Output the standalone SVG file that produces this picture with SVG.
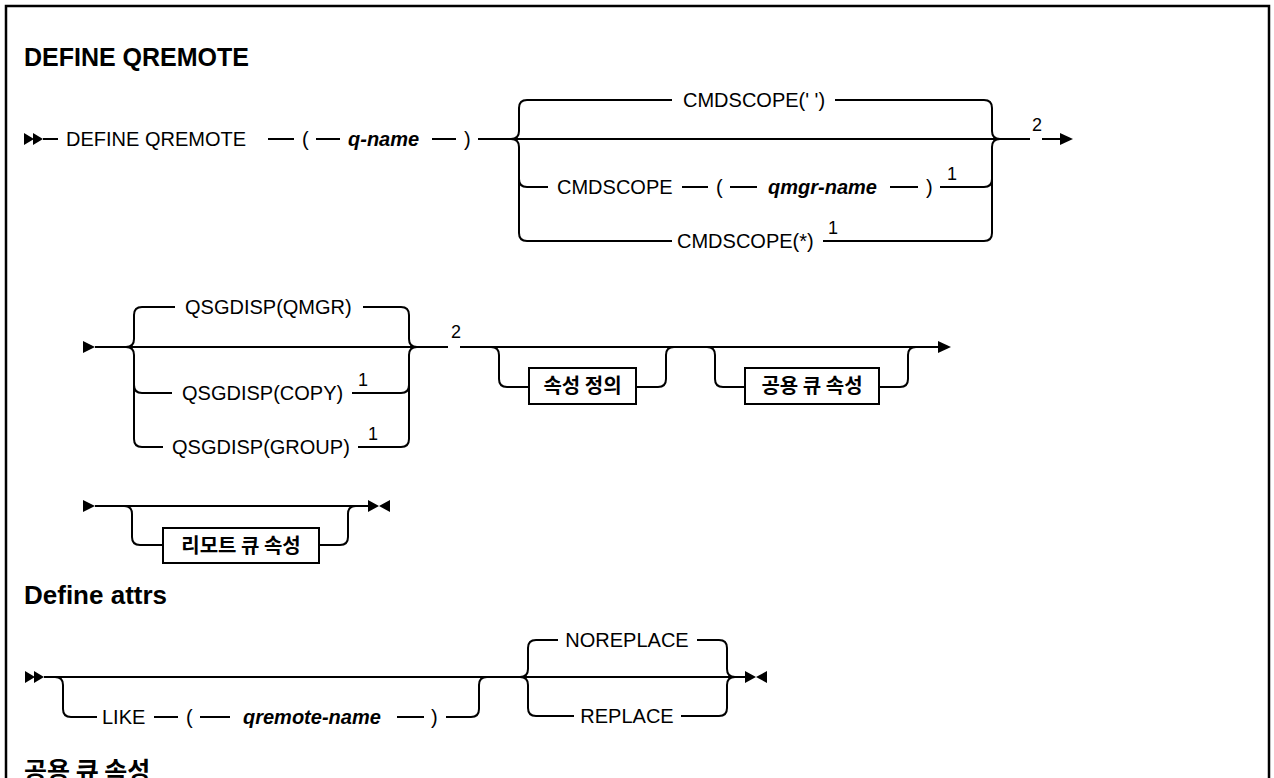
<svg xmlns="http://www.w3.org/2000/svg" width="1274" height="778" viewBox="0 0 1274 778">
<style>
.rail{fill:none;stroke:#000;stroke-width:2}
.mk{fill:#000;stroke:none}
.box{fill:#fff;stroke:#000;stroke-width:2}
.t{font-family:"Liberation Sans","Noto Sans CJK KR",sans-serif;font-size:20px;fill:#000}
.v{font-style:italic;font-weight:bold}
.k{font-family:"Noto Sans CJK KR","Liberation Sans",sans-serif;font-size:20px;font-weight:bold;fill:#000}
.s{font-family:"Liberation Sans",sans-serif;font-size:18px;fill:#000}
.h{font-family:"Liberation Sans","Noto Sans CJK KR",sans-serif;font-size:25px;font-weight:bold;fill:#000}
.hk{font-family:"Noto Sans CJK KR",sans-serif;font-size:25px;font-weight:bold;fill:#000}
</style>
<rect x="0" y="0" width="1274" height="778" fill="#fff"/>
<rect x="6" y="6" width="1263" height="820" fill="none" stroke="#000" stroke-width="2.5"/>

<text class="h" x="24" y="66">DEFINE QREMOTE</text>
<text class="h" x="24" y="604" style="font-size:26px">Define attrs</text>
<text class="hk" x="24" y="780">공용 큐 속성</text>

<g id="connectors">
<!-- row 1 -->
<path class="mk" d="M24,133 L34,139 L24,145 Z M33,133 L43,139 L33,145 Z"/>
<path class="rail" d="M43,139 H58 M268,139 H294 M316,139 H340 M432,139 H456 M478,139 H1030 M1042,139 H1062"/>
<path class="mk" d="M1060,133 L1073,139 L1060,145 Z"/>
<path class="rail" d="M511,139 Q519,139 519,131 V108 Q519,100 527,100 H672 M835,100 H984 Q992,100 992,108 V131 Q992,139 1000,139"/>
<path class="rail" d="M511,139 Q519,139 519,147 V233 Q519,241 527,241 H672 M823,241 H984 Q992,241 992,233 V147 Q992,139 1000,139"/>
<path class="rail" d="M519,179 Q519,187 527,187 H548 M682,187 H708 M730,187 H757 M890,187 H918 M940,187 H984 Q992,187 992,179"/>
<!-- row 2 -->
<path class="mk" d="M83,341 L95,347 L83,353 Z"/>
<path class="rail" d="M95,347 H448 M460,347 H940"/>
<path class="mk" d="M938,341 L951,347 L938,353 Z"/>
<path class="rail" d="M126,347 Q134,347 134,339 V315 Q134,307 142,307 H175 M363,307 H401 Q409,307 409,315 V339 Q409,347 417,347"/>
<path class="rail" d="M126,347 Q134,347 134,355 V439 Q134,447 142,447 H163 M358,447 H401 Q409,447 409,439 V355 Q409,347 417,347"/>
<path class="rail" d="M134,385 Q134,393 142,393 H172 M352,393 H401 Q409,393 409,385"/>
<path class="rail" d="M491,347 Q499,347 499,355 V379 Q499,387 507,387 H529 M636,387 H658 Q666,387 666,379 V355 Q666,347 674,347"/>
<path class="rail" d="M707,347 Q715,347 715,355 V379 Q715,387 723,387 H745 M879,387 H900 Q908,387 908,379 V355 Q908,347 916,347"/>
<!-- row 3 -->
<path class="mk" d="M83,500 L95,506 L83,512 Z"/>
<path class="rail" d="M95,506 H368"/>
<path class="rail" d="M124,506 Q132,506 132,514 V537 Q132,545 140,545 H163 M319,545 H340 Q348,545 348,537 V514 Q348,506 356,506"/>
<path class="mk" d="M368,500 L379,506 L368,512 Z M390,500 L379,506 L390,512 Z"/>
<!-- row 4 -->
<path class="mk" d="M25,671 L35,677 L25,683 Z M34,671 L44,677 L34,683 Z"/>
<path class="rail" d="M44,677 H745"/>
<path class="rail" d="M55,677 Q63,677 63,685 V709 Q63,717 71,717 H97 M154,717 H178 M200,717 H230 M397,717 H424 M446,717 H471 Q479,717 479,709 V685 Q479,677 487,677"/>
<path class="rail" d="M520,677 Q528,677 528,669 V648 Q528,640 536,640 H558 M697,640 H719 Q727,640 727,648 V669 Q727,677 735,677"/>
<path class="rail" d="M520,677 Q528,677 528,685 V708 Q528,716 536,716 H574 M681,716 H719 Q727,716 727,708 V685 Q727,677 735,677"/>
<path class="mk" d="M745,671 L756,677 L745,683 Z M767,671 L756,677 L767,683 Z"/>
</g>

<g id="n-define"><text class="t" x="66" y="146">DEFINE QREMOTE</text></g>
<g id="n-lp1"><text class="t" x="302" y="146">(</text></g>
<g id="n-qname"><text class="t v" x="348" y="146">q-name</text></g>
<g id="n-rp1"><text class="t" x="464" y="146">)</text></g>
<g id="n-cmdscope-blank"><text class="t" x="683" y="107">CMDSCOPE(' ')</text></g>
<g id="n-cmdscope"><text class="t" x="557" y="194">CMDSCOPE</text><text class="t" x="716" y="194">(</text><text class="t v" x="768" y="194">qmgr-name</text><text class="t" x="926" y="194">)</text><text class="s" x="947" y="180">1</text></g>
<g id="n-cmdscope-star"><text class="t" x="677" y="248">CMDSCOPE(*)</text><text class="s" x="828" y="234">1</text></g>
<g id="n-note2a"><text class="s" x="1032" y="131">2</text></g>

<g id="n-qmgr"><text class="t" x="185" y="314">QSGDISP(QMGR)</text></g>
<g id="n-copy"><text class="t" x="182" y="400">QSGDISP(COPY)</text><text class="s" x="358" y="386">1</text></g>
<g id="n-group"><text class="t" x="172" y="454">QSGDISP(GROUP)</text><text class="s" x="368" y="440">1</text></g>
<g id="n-note2b"><text class="s" x="451" y="338">2</text></g>
<g id="n-defattrs"><rect class="box" x="529" y="368" width="107" height="36"/><text class="k" x="582.5" y="393" text-anchor="middle">속성 정의</text></g>
<g id="n-sharedattrs"><rect class="box" x="745" y="368" width="134" height="36"/><text class="k" x="812" y="393" text-anchor="middle">공용 큐 속성</text></g>

<g id="n-remoteattrs"><rect class="box" x="163" y="528" width="156" height="35"/><text class="k" x="241" y="553" text-anchor="middle">리모트 큐 속성</text></g>

<g id="n-like"><text class="t" x="102" y="724">LIKE</text><text class="t" x="186" y="724">(</text><text class="t v" x="243" y="724">qremote-name</text><text class="t" x="431" y="724">)</text></g>
<g id="n-noreplace"><text class="t" x="627" y="647" text-anchor="middle">NOREPLACE</text></g>
<g id="n-replace"><text class="t" x="627" y="723" text-anchor="middle">REPLACE</text></g>
</svg>
